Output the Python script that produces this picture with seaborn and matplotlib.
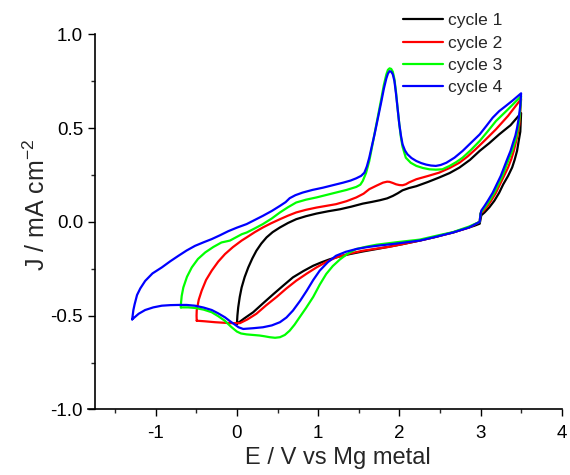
import numpy as np
import pandas as pd
import matplotlib
matplotlib.use("Agg")
import matplotlib.pyplot as plt
import seaborn as sns
from matplotlib.ticker import MultipleLocator

# ---- data ----
cycle_labels = ["cycle 1", "cycle 2", "cycle 3", "cycle 4"]
cycle_colors = ["#000000", "#FF0000", "#00FF00", "#0000FF"]

E_c1 = [0.0, 0.006, 0.016, 0.035, 0.058, 0.095, 0.14, 0.19, 0.24, 0.30, 0.365, 0.44, 0.53, 0.63, 0.73,
        0.85, 0.98, 1.12, 1.27, 1.41, 1.55, 1.66, 1.76, 1.85, 1.92, 1.98, 2.04, 2.12, 2.21, 2.35,
        2.49, 2.62, 2.74, 2.87, 2.99, 3.11, 3.23, 3.37, 3.50,
        3.495, 3.49, 3.47, 3.45, 3.42, 3.39, 3.34, 3.28, 3.23, 3.17, 3.11, 3.05, 3.01, 2.99, 2.93, 2.86,
        2.76, 2.66, 2.55, 2.45, 2.35, 2.25, 2.04, 1.72, 1.55, 1.39, 1.26, 1.14, 1.04, 0.94, 0.82, 0.69,
        0.57, 0.45, 0.32, 0.2, 0.09, 0.0]
J_c1 = [-0.544, -0.50, -0.456, -0.40, -0.35, -0.295, -0.243, -0.195, -0.154, -0.116, -0.083, -0.055,
        -0.03, -0.006, 0.014, 0.03, 0.044, 0.056, 0.067, 0.081, 0.097, 0.106, 0.115, 0.125, 0.138, 0.152,
        0.168, 0.18, 0.19, 0.212, 0.236, 0.26, 0.289, 0.33, 0.378, 0.42, 0.466, 0.515, 0.58,
        0.53, 0.48, 0.43, 0.378, 0.33, 0.29, 0.245, 0.20, 0.155, 0.112, 0.078, 0.05, 0.035, -0.01, -0.02,
        -0.03, -0.043, -0.057, -0.068, -0.08, -0.09, -0.10, -0.119, -0.145, -0.158, -0.172, -0.185,
        -0.2, -0.216, -0.234, -0.262, -0.296, -0.34, -0.385, -0.435, -0.482, -0.515, -0.544]

E_c2 = [-0.495, -0.497, -0.495, -0.47, -0.434, -0.38, -0.31, -0.23, -0.147, -0.05, 0.058, 0.12, 0.22, 0.32,
        0.42, 0.53, 0.63, 0.73, 0.85, 0.98, 1.10, 1.22, 1.35, 1.47, 1.56, 1.63, 1.72, 1.80, 1.85, 1.88,
        1.92, 1.96, 2.0, 2.04, 2.08, 2.12, 2.21, 2.35, 2.49, 2.62, 2.74, 2.84, 2.94, 3.06, 3.19, 3.34,
        3.50,
        3.49, 3.48, 3.45, 3.41, 3.38, 3.34, 3.29, 3.24, 3.19, 3.13, 3.08, 3.03, 3.0, 2.99, 2.86, 2.66,
        2.45, 2.25, 2.06, 1.88, 1.72, 1.55, 1.38, 1.22, 1.10, 0.98, 0.86, 0.73, 0.61, 0.49, 0.36, 0.24,
        0.13, 0.037, -0.086, -0.27, -0.40, -0.495]
J_c2 = [-0.527, -0.50, -0.473, -0.415, -0.367, -0.31, -0.26, -0.212, -0.172, -0.135, -0.10, -0.083, -0.055,
        -0.03, -0.008, 0.014, 0.033, 0.05, 0.064, 0.076, 0.085, 0.094, 0.11, 0.13, 0.15, 0.174, 0.193,
        0.209, 0.214, 0.213, 0.207, 0.20, 0.196, 0.195, 0.20, 0.21, 0.227, 0.244, 0.262, 0.287, 0.315,
        0.348, 0.387, 0.437, 0.493, 0.565, 0.655,
        0.59, 0.52, 0.45, 0.378, 0.335, 0.29, 0.245, 0.20, 0.155, 0.112, 0.08, 0.055, 0.045, 0.0, -0.03,
        -0.057, -0.08, -0.10, -0.117, -0.133, -0.143, -0.154, -0.17, -0.19, -0.214, -0.243, -0.276,
        -0.314, -0.355, -0.40, -0.445, -0.49, -0.52, -0.54, -0.54, -0.535, -0.53, -0.527]

E_c3 = [-0.69, -0.692, -0.69, -0.68, -0.66, -0.615, -0.556, -0.48, -0.39, -0.29, -0.19, -0.086, 0.0, 0.06,
        0.12, 0.22, 0.32, 0.43, 0.53, 0.63, 0.73, 0.85, 0.98, 1.10, 1.22, 1.35, 1.47, 1.52, 1.55, 1.59,
        1.63, 1.66, 1.695, 1.74, 1.78, 1.81, 1.84, 1.86, 1.88, 1.90, 1.92, 1.94, 1.96, 1.98, 2.0, 2.02,
        2.04, 2.08, 2.14, 2.21, 2.29, 2.37, 2.45, 2.53, 2.62, 2.70, 2.78, 2.88, 2.99, 3.09, 3.19, 3.34,
        3.50,
        3.49, 3.475, 3.44, 3.39, 3.35, 3.31, 3.27, 3.22, 3.17, 3.11, 3.06, 3.02, 3.0, 2.99, 2.86, 2.66,
        2.45, 2.25, 1.98, 1.72, 1.60, 1.47, 1.37, 1.27, 1.18, 1.10, 1.02, 0.94, 0.85, 0.77, 0.71, 0.65,
        0.59, 0.53, 0.47, 0.405, 0.34, 0.28, 0.20, 0.12, 0.05, 0.0, -0.07, -0.15, -0.23, -0.31, -0.41,
        -0.516, -0.60, -0.69]
J_c3 = [-0.456, -0.45, -0.44, -0.395, -0.35, -0.293, -0.243, -0.198, -0.163, -0.134, -0.11, -0.10, -0.08,
        -0.066, -0.057, -0.035, -0.012, 0.018, 0.05, 0.078, 0.103, 0.118, 0.13, 0.143, 0.156, 0.17, 0.186,
        0.198, 0.218, 0.26, 0.324, 0.39, 0.47, 0.57, 0.66, 0.73, 0.785, 0.81, 0.818, 0.815, 0.80, 0.76,
        0.69, 0.60, 0.52, 0.45, 0.40, 0.342, 0.315, 0.298, 0.287, 0.28, 0.278, 0.28, 0.298, 0.318,
        0.342, 0.382, 0.431, 0.483, 0.537, 0.60, 0.67,
        0.60, 0.53, 0.45, 0.378, 0.335, 0.29, 0.245, 0.20, 0.155, 0.112, 0.08, 0.058, 0.045, 0.0, -0.025,
        -0.055, -0.075, -0.095, -0.108, -0.122, -0.132, -0.145, -0.168, -0.2, -0.236, -0.278, -0.335,
        -0.40, -0.46, -0.51, -0.548, -0.58, -0.603, -0.615, -0.618, -0.615, -0.61, -0.606, -0.603, -0.60,
        -0.595, -0.585, -0.56, -0.527, -0.503, -0.482, -0.468, -0.459, -0.456, -0.456]

E_c4 = [-1.29, -1.275, -1.26, -1.23, -1.19, -1.13, -1.04, -0.925, -0.82, -0.72, -0.62, -0.516, -0.41, -0.31,
        -0.21, -0.107, 0.0, 0.12, 0.22, 0.32, 0.43, 0.53, 0.60, 0.65, 0.72, 0.81, 0.93, 1.06, 1.18, 1.31,
        1.40, 1.47, 1.53, 1.57, 1.60, 1.63, 1.66, 1.695, 1.74, 1.78, 1.81, 1.84, 1.86, 1.88, 1.90, 1.92,
        1.94, 1.96, 1.98, 2.0, 2.02, 2.04, 2.07, 2.10, 2.15, 2.21, 2.27, 2.33, 2.39, 2.45, 2.51, 2.58,
        2.68, 2.78, 2.88, 2.99, 3.07, 3.15, 3.23, 3.31, 3.40, 3.50,
        3.49, 3.47, 3.45, 3.43, 3.40, 3.37, 3.33, 3.29, 3.25, 3.20, 3.15, 3.09, 3.05, 3.01, 3.0, 2.99,
        2.86, 2.66, 2.45, 2.25, 1.98, 1.72, 1.60, 1.47, 1.34, 1.22, 1.12, 1.02, 0.94, 0.86, 0.78, 0.69,
        0.61, 0.53, 0.43, 0.32, 0.20, 0.077, 0.02, -0.025, -0.09, -0.147, -0.23, -0.31, -0.41, -0.516,
        -0.62, -0.72, -0.82, -0.925, -1.03, -1.13, -1.21, -1.29]
J_c4 = [-0.52, -0.47, -0.44, -0.39, -0.355, -0.315, -0.275, -0.243, -0.21, -0.181, -0.153, -0.128, -0.109,
        -0.092, -0.072, -0.05, -0.031, -0.012, 0.01, 0.032, 0.058, 0.085, 0.105, 0.126, 0.142, 0.156,
        0.17, 0.182, 0.195, 0.209, 0.22, 0.232, 0.245, 0.262, 0.295, 0.342, 0.40, 0.466, 0.56, 0.644,
        0.71, 0.764, 0.79, 0.803, 0.80, 0.786, 0.75, 0.68, 0.60, 0.52, 0.46, 0.413, 0.38, 0.36, 0.34,
        0.324, 0.313, 0.305, 0.30, 0.298, 0.303, 0.315, 0.342, 0.378, 0.42, 0.466, 0.51, 0.555, 0.59,
        0.617, 0.648, 0.685,
        0.62, 0.55, 0.50, 0.46, 0.42, 0.378, 0.335, 0.29, 0.245, 0.20, 0.155, 0.112, 0.085, 0.06, 0.04,
        0.0, -0.03, -0.057, -0.08, -0.10, -0.115, -0.128, -0.135, -0.145, -0.16, -0.181, -0.215, -0.26,
        -0.31, -0.367, -0.42, -0.473, -0.51, -0.535, -0.552, -0.562, -0.567, -0.571, -0.562, -0.548,
        -0.528, -0.509, -0.488, -0.47, -0.457, -0.447, -0.443, -0.443, -0.444, -0.447, -0.456, -0.47,
        -0.49, -0.52]

x_ticks = [-1, 0, 1, 2, 3, 4]
y_ticks = [-1.0, -0.5, 0.0, 0.5, 1.0]
x_label = "E / V vs Mg metal"
y_label = r"J / mA cm$^{\mathregular{-2}}$"

# ---- build table ----
frames = []
for lab, E, J in zip(cycle_labels, [E_c1, E_c2, E_c3, E_c4], [J_c1, J_c2, J_c3, J_c4]):
    frames.append(pd.DataFrame({"E": E, "J": J, "cycle": lab}))
df = pd.concat(frames, ignore_index=True)

sns.set_style("ticks")
plt.rcParams["font.family"] = ["Liberation Sans", "DejaVu Sans"]

fig = plt.figure(figsize=(5.70, 4.75), dpi=100)
ax = fig.add_axes([88 / 570, 0.138, 473.7 / 570, 0.790])

sns.lineplot(data=df, x="E", y="J", hue="cycle", hue_order=cycle_labels,
             palette=dict(zip(cycle_labels, cycle_colors)), sort=False, estimator=None,
             linewidth=1.6, ax=ax)

ax.set_xlim(-1.834, 4.0)
ax.set_ylim(-1.0, 1.0)
ax.spines["left"].set_position(("data", -1.75))
ax.set_xticks(x_ticks)
ax.set_yticks(y_ticks)
ax.set_xticklabels([str(t) for t in x_ticks])
ax.set_yticklabels([f"{t:.1f}" for t in y_ticks])
ax.xaxis.set_minor_locator(MultipleLocator(0.5))
ax.yaxis.set_minor_locator(MultipleLocator(0.25))
ax.tick_params(which="major", direction="out", length=5, width=1.0, labelsize=13.5, colors="black")
ax.tick_params(which="minor", direction="out", length=3, width=1.0)
ax.tick_params(axis="x", which="major", pad=6.5)
for s in ["top", "right"]:
    ax.spines[s].set_visible(False)
for s in ["left", "bottom"]:
    ax.spines[s].set_linewidth(1.2)
    ax.spines[s].set_color("black")

ax.set_xlabel(x_label, fontsize=17)
ax.set_ylabel(y_label, fontsize=18)
ax.xaxis.set_label_coords((338 - 88) / 473.7, -0.101)
ax.yaxis.set_label_coords((50 - 88) / 473.7, (409.5 - 205) / 375.5)

leg = ax.legend(loc="upper left", bbox_to_anchor=(403 / 570, 1 - 13 / 475),
                bbox_transform=fig.transFigure, frameon=False, fontsize=12.5,
                handlelength=2.3, handletextpad=0.3, labelspacing=0.42,
                borderpad=0, borderaxespad=0)
for line in leg.get_lines():
    line.set_linewidth(1.6)

fig.savefig("out.png", dpi=100)
